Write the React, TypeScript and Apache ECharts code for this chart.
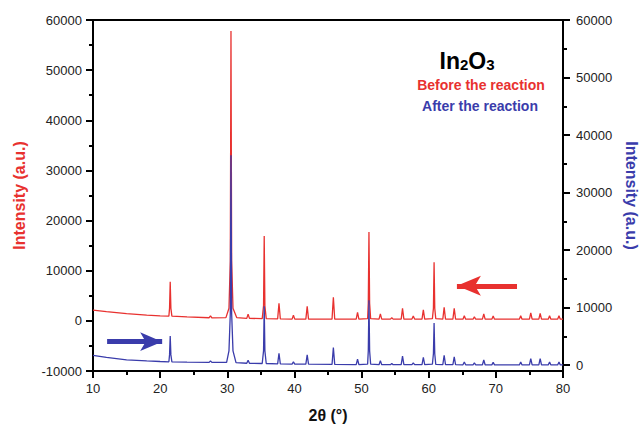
import React, { useEffect, useRef } from 'react';
import * as echarts from 'echarts';

const FONT = 'Liberation Sans, Arial, sans-serif';
const RED = '#e8312f';
const BLUE = '#3a3cab';

// 2θ axis
const xMin = 10;
const xMax = 80;
const xStep = 10;
// left axis (Before)
const leftMin = -10000;
const leftMax = 60000;
const leftStep = 10000;
// right axis (After)
const rightMin = -1000;
const rightMax = 60000;
const rightTicks = [0, 10000, 20000, 30000, 40000, 50000, 60000];
const rightMinorTicks = [5000, 15000, 25000, 35000, 45000, 55000];

// Before the reaction (left axis)
const beforeData: [number, number][] = [
  [10, 2150], [12, 1850], [15, 1450], [18, 1150], [20, 1000], [21.3, 950], [21.4, 2500], [21.5, 7800], [21.6, 2500], [21.75, 950],
  [24, 800], [27.3, 620], [27.5, 1000], [27.7, 600], [29.8, 650], [30.25, 2500], [30.45, 12000], [30.55, 57800], [30.65, 12000], [30.85, 2500],
  [31.4, 650], [32.9, 500], [33.1, 1350], [33.3, 500], [35.2, 450], [35.4, 3000], [35.5, 16900], [35.6, 3000], [35.8, 450],
  [37.5, 400], [37.7, 3500], [37.9, 400], [39.65, 350], [39.85, 1100], [40.05, 350], [41.7, 350], [41.9, 2900], [42.1, 350],
  [45.6, 350], [45.8, 4700], [46, 350], [49.2, 350], [49.4, 1700], [49.6, 350], [50.9, 450], [51.0, 3500], [51.1, 17700], [51.2, 3500], [51.35, 450],
  [52.6, 350], [52.8, 1400], [53, 350], [54.3, 350], [54.5, 600], [54.7, 350], [55.9, 350], [56.1, 2500], [56.3, 350],
  [57.5, 350], [57.7, 950], [57.9, 350], [59, 350], [59.2, 2200], [59.4, 350], [60.55, 450], [60.7, 2500], [60.8, 11700], [60.9, 2500], [61.05, 450],
  [62.1, 350], [62.3, 2700], [62.5, 350], [63.6, 350], [63.8, 2500], [64, 350], [65.1, 330], [65.3, 1000], [65.5, 330],
  [66.6, 330], [66.8, 800], [67, 330], [68, 330], [68.2, 1400], [68.4, 330], [69.4, 330], [69.6, 950], [69.8, 330],
  [73.5, 330], [73.7, 1000], [73.9, 330], [75, 330], [75.2, 1600], [75.4, 330], [76.4, 330], [76.6, 1500], [76.8, 330],
  [77.8, 330], [78, 1000], [78.2, 330], [79.2, 330], [79.4, 1000], [79.6, 330], [80, 330],
];

// After the reaction (right axis)
const afterData: [number, number][] = [
  [10, 1700], [12, 1350], [15, 950], [18, 750], [20, 650], [21.3, 600], [21.4, 1800], [21.5, 5100], [21.6, 1800], [21.75, 600],
  [24, 550], [27.3, 500], [27.5, 750], [27.7, 500], [29.9, 500], [30.25, 2500], [30.45, 9000], [30.55, 36500], [30.65, 9000], [30.85, 2500],
  [31.3, 450], [32.9, 350], [33.1, 870], [33.3, 350], [35.2, 300], [35.4, 2500], [35.5, 10250], [35.6, 2500], [35.8, 300],
  [37.5, 250], [37.7, 2080], [37.9, 250], [39.65, 200], [39.85, 570], [40.05, 200], [41.7, 200], [41.9, 1790], [42.1, 200],
  [45.6, 150], [45.8, 3060], [46, 150], [49.2, 100], [49.4, 1040], [49.6, 100], [50.9, 200], [51.0, 2500], [51.1, 11300], [51.2, 2500], [51.35, 200],
  [52.6, 100], [52.8, 800], [53, 100], [54.3, 100], [54.5, 300], [54.7, 100], [55.9, 100], [56.1, 1600], [56.3, 100],
  [57.5, 100], [57.7, 400], [57.9, 100], [59, 100], [59.2, 1390], [59.4, 100], [60.55, 200], [60.7, 2000], [60.8, 7350], [60.9, 2000], [61.05, 150],
  [62.1, 100], [62.3, 1740], [62.5, 100], [63.6, 100], [63.8, 1440], [64, 100], [65.1, 80], [65.3, 570], [65.5, 80],
  [66.6, 80], [66.8, 400], [67, 80], [68, 80], [68.2, 920], [68.4, 80], [69.4, 60], [69.6, 500], [69.8, 60],
  [73.5, 50], [73.7, 570], [73.9, 50], [75, 50], [75.2, 1150], [75.4, 50], [76.4, 50], [76.6, 1150], [76.8, 50],
  [77.8, 50], [78, 570], [78.2, 50], [79.2, 50], [79.4, 570], [79.6, 50], [80, 50],
];

// arrows: [x start, x tip, y]
const redArrow = [73.15, 64.2, 7000];
const blueArrow = [12.1, 20.3, 4100];

const plain = (v: number) => String(v);
const tickLabelStyle = { color: '#222', fontSize: 13, fontFamily: FONT, formatter: plain };
const blackLine = () => ({ color: '#000', width: 2 });

export default function App() {
  const ref = useRef<HTMLDivElement>(null);
  useEffect(() => {
    const chart = echarts.init(ref.current!, null, { renderer: 'svg' });
    chart.setOption({
      animation: false,
      backgroundColor: '#fff',
      grid: { left: 93, right: 77, top: 20, bottom: 54, containLabel: false, outerBoundsMode: 'none' },
      xAxis: [
        {
          type: 'value', position: 'bottom', min: xMin, max: xMax, interval: xStep,
          name: '2θ (°)', nameLocation: 'middle', nameGap: 36,
          nameTextStyle: { color: '#111', fontSize: 16, fontWeight: 'bold', fontFamily: FONT },
          axisLine: { onZero: false, lineStyle: blackLine() },
          axisTick: { length: 7, lineStyle: blackLine() },
          minorTick: { show: true, splitNumber: 2, length: 4, lineStyle: blackLine() },
          axisLabel: { ...tickLabelStyle, margin: 11 },
          splitLine: { show: false },
        },
        {
          type: 'value', position: 'top', min: xMin, max: xMax,
          axisLine: { show: true, onZero: false, lineStyle: blackLine() },
          axisTick: { show: false }, axisLabel: { show: false }, splitLine: { show: false },
        },
      ],
      yAxis: [
        {
          type: 'value', position: 'left', min: leftMin, max: leftMax, interval: leftStep,
          name: 'Intensity (a.u.)', nameLocation: 'middle', nameGap: 66,
          nameTextStyle: { color: RED, fontSize: 16, fontWeight: 'bold', fontFamily: FONT },
          axisLine: { show: true, onZero: false, lineStyle: blackLine() },
          axisTick: { show: true, length: 7, lineStyle: blackLine() },
          minorTick: { show: true, splitNumber: 2, length: 4, lineStyle: blackLine() },
          axisLabel: { ...tickLabelStyle, margin: 11 },
          splitLine: { show: false },
        },
        {
          type: 'value', position: 'right', min: rightMin, max: rightMax,
          name: 'Intensity (a.u.)', nameLocation: 'middle', nameGap: 58, nameRotate: -90,
          nameTextStyle: { color: BLUE, fontSize: 16, fontWeight: 'bold', fontFamily: FONT },
          axisLine: { show: true, onZero: false, lineStyle: blackLine() },
          axisTick: { show: true, length: 7, lineStyle: blackLine(), customValues: rightTicks },
          axisLabel: { ...tickLabelStyle, margin: 13, customValues: rightTicks },
          splitLine: { show: false },
        },
        {
          type: 'value', position: 'right', min: rightMin, max: rightMax,
          axisLine: { show: false, onZero: false },
          axisTick: { show: true, length: 4, lineStyle: blackLine(), customValues: rightMinorTicks },
          axisLabel: { show: false, customValues: rightMinorTicks },
          splitLine: { show: false },
        },
      ],
      series: [
        {
          name: 'Before the reaction', type: 'line', xAxisIndex: 0, yAxisIndex: 0,
          data: beforeData, showSymbol: false, symbol: 'none',
          lineStyle: { color: RED, width: 1.3 }, z: 2,
          markLine: {
            silent: true, symbol: ['none', 'arrow'], symbolSize: [15, 24],
            label: { show: false },
            lineStyle: { color: RED, width: 5, type: 'solid' },
            data: [[{ coord: [redArrow[0], redArrow[2]] }, { coord: [redArrow[1], redArrow[2]] }]],
          },
        },
        {
          name: 'After the reaction', type: 'line', xAxisIndex: 0, yAxisIndex: 1,
          data: afterData, showSymbol: false, symbol: 'none',
          lineStyle: { color: BLUE, width: 1.3 }, z: 3,
          markLine: {
            silent: true, symbol: ['none', 'arrow'], symbolSize: [14, 22],
            label: { show: false },
            lineStyle: { color: BLUE, width: 5, type: 'solid' },
            data: [[{ coord: [blueArrow[0], blueArrow[2]] }, { coord: [blueArrow[1], blueArrow[2]] }]],
          },
        },
      ],
      graphic: [
        {
          type: 'text', x: 467, y: 59,
          style: {
            text: '{a|In}{b|2}{a|O}{b|3}',
            align: 'center', verticalAlign: 'middle',
            fill: '#000', fontFamily: FONT,
            rich: {
              a: { fontSize: 23, fontWeight: 'bold', fontFamily: FONT, fill: '#000', verticalAlign: 'bottom', lineHeight: 26 },
              b: { fontSize: 15, fontWeight: 'bold', fontFamily: FONT, fill: '#000', verticalAlign: 'bottom', lineHeight: 19 },
            },
          },
        },
        {
          type: 'text', x: 481, y: 85,
          style: { text: 'Before the reaction', align: 'center', verticalAlign: 'middle', fill: RED, fontSize: 14, fontWeight: 'bold', fontFamily: FONT },
        },
        {
          type: 'text', x: 480, y: 106,
          style: { text: 'After the reaction', align: 'center', verticalAlign: 'middle', fill: BLUE, fontSize: 14, fontWeight: 'bold', fontFamily: FONT },
        },
      ],
    });
    return () => chart.dispose();
  }, []);
  return <div ref={ref} style={{ position: 'fixed', left: 0, top: 0, width: 640, height: 425, background: '#fff' }} />;
}
